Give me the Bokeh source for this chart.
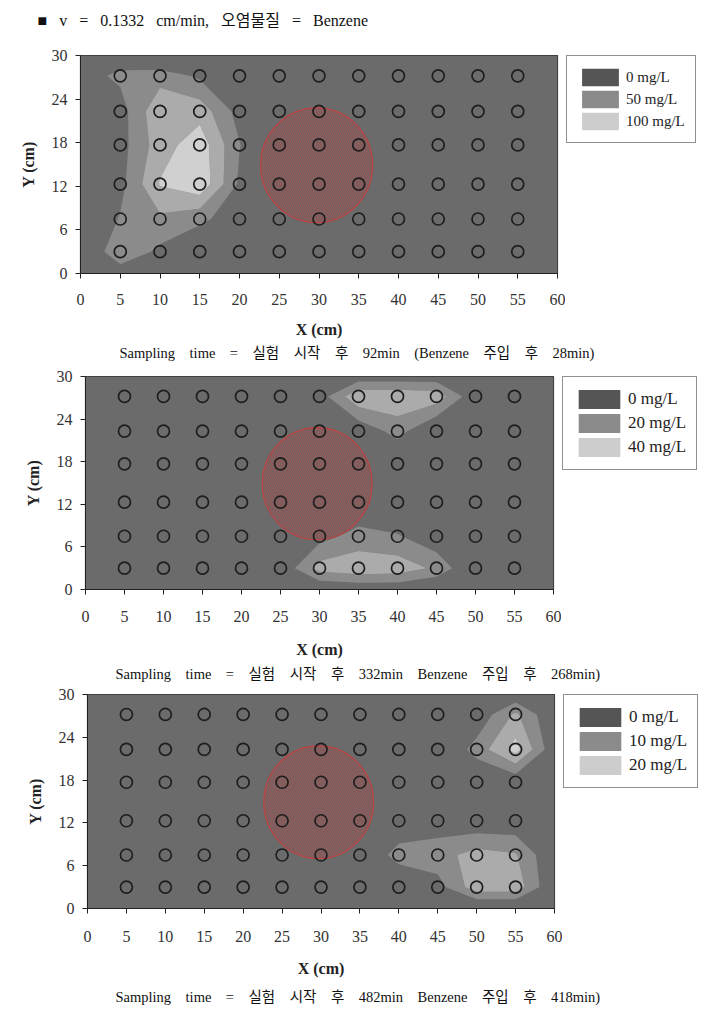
import numpy as np
from bokeh.plotting import figure
from bokeh.layouts import column, row
from bokeh.models import FixedTicker, Legend, LegendItem, Label, Range1d
from bokeh.embed import file_html
from bokeh.resources import INLINE

# ---------------- data ----------------
# interpolation grid of the contour maps (cm)
grid_x = [0, 5, 10, 15, 20, 25, 30, 35, 40, 45, 50, 55, 60]
grid_y = [0, 3, 7.5, 12.3, 17.7, 22.3, 27.2, 30]

# sampling ports (cm)
sample_x = [5, 10, 15, 20, 25, 30, 35, 40, 45, 50, 55]
sample_y = [3, 7.5, 12.3, 17.7, 22.3, 27.2]

# Benzene concentration (mg/L), rows = grid_y, cols = grid_x
conc_92 = [
    [10, 35, 15, 10, 10, 10, 10, 10, 10, 10, 10, 10, 10],
    [20, 70, 44, 25, 20, 15, 12, 10, 10, 10, 10, 10, 10],
    [20, 52, 70, 56, 35, 18, 12, 10, 10, 10, 10, 10, 10],
    [15, 42, 102, 120, 45, 20, 12, 10, 10, 10, 10, 10, 10],
    [15, 40, 88, 115, 51, 20, 12, 10, 10, 10, 10, 10, 10],
    [15, 39, 95, 90, 40, 18, 12, 10, 10, 10, 10, 10, 10],
    [40, 55, 65, 45, 20, 15, 12, 10, 10, 10, 10, 10, 10],
    [20, 37, 12, 10, 10, 10, 10, 10, 10, 10, 10, 10, 10],
]
conc_332 = [
    [2, 2, 2, 2, 3, 5, 10, 12, 12, 8, 4, 3, 2],
    [3, 3, 3, 3, 4, 12, 34, 37, 36, 28, 8, 5, 3],
    [3, 3, 3, 3, 4, 5, 16, 24, 21, 12, 6, 4, 3],
    [2, 3, 3, 3, 3, 5, 8, 10, 8, 6, 5, 4, 3],
    [2, 3, 3, 3, 3, 4, 6, 7, 8, 6, 5, 4, 3],
    [2, 3, 3, 3, 3, 4, 8, 12, 24, 8, 8, 5, 3],
    [2, 3, 3, 3, 4, 6, 15, 38, 38, 36, 12, 6, 3],
    [2, 2, 2, 2, 3, 4, 8, 14, 14, 14, 8, 4, 2],
]
conc_482 = [
    [2, 2, 2, 2, 2, 2, 3, 3, 3, 3, 4, 4, 3],
    [2, 2, 2, 2, 2, 3, 3, 3, 5, 8, 18, 18, 5],
    [2, 2, 2, 2, 2, 3, 3, 5, 12, 13, 17, 15.5, 5],
    [2, 2, 2, 2, 2, 3, 3, 4, 6, 7, 6, 6, 4],
    [2, 2, 2, 2, 2, 3, 3, 3, 4, 4, 5, 6, 4],
    [2, 2, 2, 2, 2, 3, 3, 3, 3, 4, 12, 22, 6],
    [2, 2, 2, 2, 2, 3, 3, 3, 3, 3, 6, 16, 5],
    [2, 2, 2, 2, 2, 2, 2, 3, 3, 3, 4, 6, 4],
]

levels_92 = [0, 50, 75, 100, 1000]
levels_332 = [0, 20, 30, 40, 1000]
levels_482 = [0, 10, 15, 20, 1000]

legend_92 = ["0 mg/L", "50 mg/L", "100 mg/L"]
legend_332 = ["0 mg/L", "20 mg/L", "40 mg/L"]
legend_482 = ["0 mg/L", "10 mg/L", "20 mg/L"]

SP = "\u2003"
caption_92 = SP.join(["Sampling", "time", "=", "실험", "시작", "후", "92min",
                      "(Benzene", "주입", "후", "28min)"])
caption_332 = SP.join(["Sampling", "time", "=", "실험", "시작", "후", "332min",
                       "Benzene", "주입", "후", "268min)"])
caption_482 = SP.join(["Sampling", "time", "=", "실험", "시작", "후", "482min",
                       "Benzene", "주입", "후", "418min)"])
HS = "\u2002\u2005"
header = HS.join(["■", "v", "=", "0.1332", "cm/min,", "오염물질", "=", "Benzene"])

# injection (source) zone
source_x = [29.7]
source_y = [14.9]
source_w = 14.1
source_h = 15.8

x_ticks = [0, 5, 10, 15, 20, 25, 30, 35, 40, 45, 50, 55, 60]
y_ticks = [0, 6, 12, 18, 24, 30]

# ---------------- style ----------------
FONT = "Liberation Serif, Noto Sans CJK KR"
FILLS = ["#6b6b6b", "#8b8b8b", "#ababab", "#d0d0d0"]
SWATCH = ["#555555", "#8b8b8b", "#cdcdcd"]
W = 712


def plain_fig(width, height, top=0, left=0):
    f = figure(width=width, height=height, x_range=Range1d(0, 1), y_range=Range1d(0, 1),
               x_axis_type=None, y_axis_type=None, toolbar_location=None,
               output_backend="svg", min_border_top=top, min_border_left=left,
               min_border_right=0, min_border_bottom=0, outline_line_color=None,
               background_fill_color="white", border_fill_color="white")
    return f


def text_fig(txt, height, x, y_from_top, size):
    f = figure(width=W, height=height, x_range=Range1d(0, W), y_range=Range1d(0, height),
               x_axis_type=None, y_axis_type=None, toolbar_location=None,
               output_backend="svg", min_border=0, outline_line_color=None,
               background_fill_color="white", border_fill_color="white")
    f.add_layout(Label(x=x, y=height - y_from_top, text=txt, text_baseline="middle",
                       text_align="left", text_font=FONT, text_font_size=size,
                       text_color="#111111"))
    return f


def main_fig(conc, levels, top, fh, bottom, left, fw, xlab_standoff, xtitle_standoff):
    p = figure(frame_width=fw, frame_height=fh,
               x_range=Range1d(0, 60), y_range=Range1d(0, 30),
               output_backend="svg", toolbar_location=None,
               min_border_top=top, min_border_bottom=bottom,
               min_border_left=left, min_border_right=8,
               background_fill_color=FILLS[0], border_fill_color="white",
               outline_line_color="#333333", outline_line_width=1.2)
    p.grid.visible = False

    p.contour(grid_x, grid_y, np.array(conc, dtype=float), levels,
              fill_color=FILLS, line_color=None)

    p.ellipse(x=source_x, y=source_y, width=source_w, height=source_h,
              fill_color="#a04848", fill_alpha=0.22,
              hatch_pattern="/", hatch_color="#c83c3c", hatch_alpha=0.6,
              hatch_scale=4, hatch_weight=0.6,
              line_color="#c04040", line_width=1.1)

    xs, ys = np.meshgrid(sample_x, sample_y)
    p.scatter(xs.ravel(), ys.ravel(), marker="circle", size=12,
              fill_color=None, line_color="#1e1e1e", line_width=1.7)

    for ax, ticks in ((p.xaxis, x_ticks), (p.yaxis, y_ticks)):
        ax.ticker = FixedTicker(ticks=ticks)
        ax.major_tick_out = 5
        ax.major_tick_in = 0
        ax.minor_tick_out = 0
        ax.minor_tick_in = 0
        ax.axis_line_color = "#222222"
        ax.major_tick_line_color = "#222222"
        ax.major_label_text_font = FONT
        ax.major_label_text_font_size = "16px"
        ax.major_label_text_color = "#333333"
        ax.axis_label_text_font = FONT
        ax.axis_label_text_font_size = "16px"
        ax.axis_label_text_font_style = "bold"
        ax.axis_label_text_color = "#222222"
    p.xaxis.axis_label = "X (cm)"
    p.yaxis.axis_label = "Y (cm)"
    p.xaxis.major_label_standoff = xlab_standoff
    p.xaxis.axis_label_standoff = xtitle_standoff
    p.yaxis.major_label_standoff = 8
    p.yaxis.axis_label_standoff = 12
    return p


def legend_fig(labels, width, height, top_off, leg_font, gw, gh):
    f = plain_fig(width, height, top=top_off, left=1)
    items = []
    for c, lab in zip(SWATCH, labels):
        r = f.rect(x=[np.nan], y=[np.nan], width=1, height=1, fill_color=c, line_color=None)
        items.append(LegendItem(label=lab, renderers=[r]))
    leg = Legend(items=items, location="top_left", orientation="vertical",
                 glyph_width=gw, glyph_height=gh, spacing=0, padding=10,
                 label_standoff=3, label_text_font=FONT, label_text_font_size=leg_font,
                 label_text_color="#222222", label_height=gh,
                 border_line_color="#222222", border_line_width=1.3,
                 background_fill_color="white", background_fill_alpha=1.0, margin=0)
    f.add_layout(leg, "center")
    return f


def block(conc, levels, labels, top, fh, bottom, left, fw, xs_, xt_, leg_font, gw, gh, leg_top):
    m = main_fig(conc, levels, top, fh, bottom, left, fw, xs_, xt_)
    mw = left + fw + 8
    lg = legend_fig(labels, W - mw, top + fh + bottom, leg_top, leg_font, gw, gh)
    return row(m, lg, spacing=0)


head = text_fig(header, 30, 37, 20, "16px")
b1 = block(conc_92, levels_92, legend_92, 25, 218, 70, 80, 477, 15, 13, "15px", 46, 22, 24)
c1 = text_fig(caption_92, 19, 119, 9, "14.5px")
b2 = block(conc_332, levels_332, legend_332, 13, 213, 74, 85, 468, 16, 16, "17px", 52, 24, 14)
c2 = text_fig(caption_332, 23, 115, 11, "14.5px")
b3 = block(conc_482, levels_482, legend_482, 9, 214, 74, 87, 467, 17, 15, "17px", 52, 24, 7)
c3 = text_fig(caption_482, 24, 115, 14, "14.5px")

layout = column(head, b1, c1, b2, c2, b3, c3, spacing=0)
open("out.html", "w").write(file_html(layout, INLINE))
